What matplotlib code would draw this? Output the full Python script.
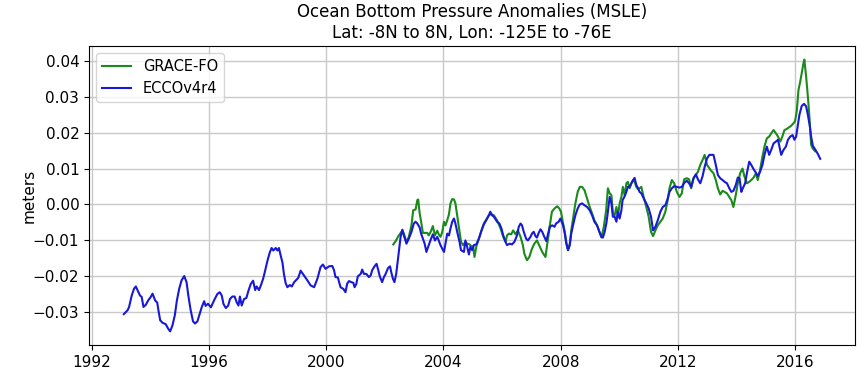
import matplotlib
matplotlib.use("Agg")
import matplotlib.pyplot as plt

# ECCOv4r4 ocean bottom pressure anomaly (m), decimal years
ecco_years = [
    1993.10, 1993.23, 1993.28, 1993.37, 1993.45, 1993.51, 1993.57, 1993.65, 1993.71, 1993.77,
    1993.85, 1993.93, 1994.02, 1994.08, 1994.17, 1994.24, 1994.28, 1994.34, 1994.42, 1994.53,
    1994.61, 1994.68, 1994.76, 1994.84, 1994.91, 1994.99, 1995.07, 1995.16, 1995.24, 1995.30,
    1995.38, 1995.46, 1995.53, 1995.61, 1995.69, 1995.76, 1995.84, 1995.89, 1995.97, 1996.07,
    1996.12, 1996.20, 1996.29, 1996.37, 1996.44, 1996.50, 1996.58, 1996.66, 1996.72, 1996.80,
    1996.88, 1996.95, 1997.01, 1997.06, 1997.12, 1997.20, 1997.28, 1997.35, 1997.43, 1997.51,
    1997.58, 1997.63, 1997.71, 1997.77, 1997.85, 1997.92, 1998.00, 1998.08, 1998.14, 1998.20,
    1998.28, 1998.34, 1998.39, 1998.45, 1998.51, 1998.56, 1998.62, 1998.68, 1998.76, 1998.83,
    1998.91, 1998.98, 1999.05, 1999.13, 1999.24, 1999.36, 1999.47, 1999.59, 1999.70, 1999.81,
    1999.89, 1999.98, 2000.10, 2000.21, 2000.27, 2000.32, 2000.40, 2000.49, 2000.59, 2000.66,
    2000.72, 2000.78, 2000.86, 2000.93, 2000.97, 2001.03, 2001.08, 2001.18, 2001.23, 2001.29,
    2001.37, 2001.46, 2001.52, 2001.57, 2001.65, 2001.72, 2001.78, 2001.83, 2001.91, 2001.97,
    2002.03, 2002.11, 2002.18, 2002.22, 2002.28, 2002.33, 2002.39, 2002.46, 2002.54, 2002.60,
    2002.65, 2002.74, 2002.82, 2002.91, 2002.99, 2003.05, 2003.11, 2003.19, 2003.24, 2003.30,
    2003.36, 2003.42, 2003.50, 2003.58, 2003.64, 2003.71, 2003.79, 2003.84, 2003.90, 2003.96,
    2004.02, 2004.07, 2004.13, 2004.19, 2004.24, 2004.30, 2004.36, 2004.41, 2004.47, 2004.55,
    2004.60, 2004.70, 2004.75, 2004.81, 2004.87, 2004.92, 2004.98, 2005.04, 2005.12, 2005.21,
    2005.30, 2005.38, 2005.46, 2005.55, 2005.60, 2005.66, 2005.72, 2005.83, 2005.91, 2005.98,
    2006.04, 2006.12, 2006.17, 2006.26, 2006.34, 2006.42, 2006.51, 2006.57, 2006.63, 2006.68,
    2006.74, 2006.82, 2006.88, 2006.97, 2007.02, 2007.08, 2007.14, 2007.19, 2007.25, 2007.31,
    2007.37, 2007.42, 2007.51, 2007.57, 2007.63, 2007.71, 2007.79, 2007.84, 2007.93, 2007.99,
    2008.08, 2008.14, 2008.19, 2008.25, 2008.31, 2008.36, 2008.42, 2008.50, 2008.58, 2008.65,
    2008.73, 2008.81, 2008.90, 2008.99, 2009.07, 2009.15, 2009.24, 2009.32, 2009.39, 2009.44,
    2009.50, 2009.56, 2009.61, 2009.67, 2009.73, 2009.78, 2009.84, 2009.90, 2009.95, 2010.01,
    2010.07, 2010.11, 2010.17, 2010.24, 2010.29, 2010.35, 2010.41, 2010.47, 2010.52, 2010.58,
    2010.64, 2010.69, 2010.75, 2010.83, 2010.92, 2011.00, 2011.08, 2011.15, 2011.23, 2011.31,
    2011.40, 2011.48, 2011.57, 2011.65, 2011.71, 2011.79, 2011.87, 2011.96, 2012.05, 2012.13,
    2012.21, 2012.30, 2012.38, 2012.45, 2012.53, 2012.61, 2012.68, 2012.76, 2012.84, 2012.91,
    2012.99, 2013.07, 2013.13, 2013.21, 2013.29, 2013.36, 2013.44, 2013.52, 2013.59, 2013.67,
    2013.75, 2013.82, 2013.89, 2013.97, 2014.04, 2014.10, 2014.16, 2014.21, 2014.29, 2014.35,
    2014.43, 2014.50, 2014.58, 2014.66, 2014.72, 2014.80, 2014.88, 2014.95, 2015.03, 2015.11,
    2015.18, 2015.26, 2015.34, 2015.41, 2015.46, 2015.52, 2015.60, 2015.68, 2015.75, 2015.83,
    2015.91, 2015.97, 2016.03, 2016.09, 2016.14, 2016.22, 2016.30, 2016.37, 2016.43, 2016.49,
    2016.54, 2016.60, 2016.68, 2016.76, 2016.85,
]
ecco_obp = [
    -0.0305, -0.0294, -0.0285, -0.0253, -0.0234, -0.0228, -0.0239, -0.0253, -0.0257, -0.0285,
    -0.0279, -0.0267, -0.0257, -0.0248, -0.0267, -0.0273, -0.0294, -0.0322, -0.0329, -0.0333,
    -0.0345, -0.0353, -0.0336, -0.0308, -0.0267, -0.0234, -0.0211, -0.0199, -0.0216, -0.0253,
    -0.0294, -0.0325, -0.0331, -0.0325, -0.0304, -0.0285, -0.0269, -0.0282, -0.0276, -0.0286,
    -0.0277, -0.0263, -0.0249, -0.0244, -0.0253, -0.0277, -0.0288, -0.0281, -0.0263, -0.0256,
    -0.0256, -0.0272, -0.0281, -0.0256, -0.0281, -0.0263, -0.0260, -0.0240, -0.0221, -0.0212,
    -0.0238, -0.0228, -0.0238, -0.0226, -0.0207, -0.0184, -0.0156, -0.0133, -0.0121, -0.0128,
    -0.0121, -0.0128, -0.0121, -0.0142, -0.0161, -0.0193, -0.0219, -0.0230, -0.0224, -0.0228,
    -0.0216, -0.0210, -0.0204, -0.0184, -0.0197, -0.0211, -0.0225, -0.0230, -0.0207, -0.0174,
    -0.0167, -0.0179, -0.0172, -0.0171, -0.0183, -0.0202, -0.0203, -0.0230, -0.0235, -0.0244,
    -0.0220, -0.0213, -0.0216, -0.0218, -0.0230, -0.0221, -0.0200, -0.0193, -0.0181, -0.0193,
    -0.0193, -0.0202, -0.0197, -0.0183, -0.0172, -0.0165, -0.0183, -0.0200, -0.0216, -0.0202,
    -0.0193, -0.0177, -0.0172, -0.0188, -0.0207, -0.0216, -0.0193, -0.0146, -0.0090, -0.0070,
    -0.0086, -0.0109, -0.0095, -0.0076, -0.0053, -0.0048, -0.0053, -0.0064, -0.0081, -0.0095,
    -0.0109, -0.0132, -0.0113, -0.0095, -0.0083, -0.0100, -0.0090, -0.0100, -0.0113, -0.0123,
    -0.0132, -0.0109, -0.0081, -0.0086, -0.0067, -0.0048, -0.0039, -0.0053, -0.0076, -0.0104,
    -0.0127, -0.0132, -0.0100, -0.0118, -0.0139, -0.0118, -0.0127, -0.0113, -0.0111, -0.0095,
    -0.0072, -0.0055, -0.0044, -0.0030, -0.0020, -0.0030, -0.0034, -0.0048, -0.0053, -0.0067,
    -0.0086, -0.0104, -0.0113, -0.0109, -0.0111, -0.0104, -0.0086, -0.0062, -0.0053, -0.0058,
    -0.0076, -0.0095, -0.0100, -0.0090, -0.0081, -0.0076, -0.0088, -0.0092, -0.0079, -0.0069,
    -0.0076, -0.0086, -0.0102, -0.0081, -0.0062, -0.0058, -0.0062, -0.0053, -0.0048, -0.0039,
    -0.0058, -0.0081, -0.0109, -0.0127, -0.0113, -0.0081, -0.0058, -0.0030, -0.0011, 0.0000,
    0.0003, -0.0002, -0.0007, -0.0016, -0.0030, -0.0048, -0.0058, -0.0076, -0.0090, -0.0092,
    -0.0076, -0.0051, -0.0020, 0.0021, 0.0003, -0.0034, -0.0034, -0.0048, -0.0020, -0.0039,
    -0.0016, 0.0012, 0.0021, 0.0035, 0.0049, 0.0049, 0.0059, 0.0068, 0.0074, 0.0054,
    0.0045, 0.0035, 0.0031, 0.0017, 0.0003, -0.0011, -0.0034, -0.0072, -0.0062, -0.0044,
    -0.0020, -0.0007, -0.0002, 0.0017, 0.0035, 0.0045, 0.0051, 0.0049, 0.0047, 0.0049,
    0.0060, 0.0066, 0.0059, 0.0049, 0.0073, 0.0084, 0.0070, 0.0059, 0.0079, 0.0105,
    0.0128, 0.0138, 0.0138, 0.0138, 0.0110, 0.0082, 0.0073, 0.0068, 0.0063, 0.0059,
    0.0045, 0.0035, 0.0038, 0.0054, 0.0075, 0.0073, 0.0035, 0.0045, 0.0059, 0.0087,
    0.0119, 0.0110, 0.0098, 0.0088, 0.0079, 0.0091, 0.0110, 0.0138, 0.0161, 0.0138,
    0.0152, 0.0170, 0.0175, 0.0180, 0.0161, 0.0138, 0.0152, 0.0161, 0.0180, 0.0189,
    0.0193, 0.0180, 0.0189, 0.0221, 0.0249, 0.0274, 0.0280, 0.0273, 0.0249, 0.0221,
    0.0189, 0.0163, 0.0153, 0.0142, 0.0127,
]

# GRACE-FO ocean bottom pressure anomaly (m), decimal years
grace_years = [
    2002.29, 2002.37, 2002.45, 2002.54, 2002.60, 2002.65, 2002.74, 2002.82, 2002.91, 2002.97,
    2003.05, 2003.11, 2003.14, 2003.19, 2003.24, 2003.30, 2003.39, 2003.45, 2003.50, 2003.56,
    2003.64, 2003.71, 2003.79, 2003.84, 2003.90, 2003.96, 2004.02, 2004.07, 2004.13, 2004.19,
    2004.24, 2004.30, 2004.36, 2004.41, 2004.47, 2004.55, 2004.60, 2004.67, 2004.75, 2004.81,
    2004.89, 2004.95, 2005.01, 2005.06, 2005.12, 2005.21, 2005.30, 2005.38, 2005.46, 2005.55,
    2005.63, 2005.72, 2005.83, 2005.95, 2006.04, 2006.12, 2006.17, 2006.23, 2006.31, 2006.38,
    2006.46, 2006.54, 2006.63, 2006.71, 2006.76, 2006.85, 2006.93, 2007.02, 2007.10, 2007.19,
    2007.27, 2007.37, 2007.44, 2007.48, 2007.56, 2007.63, 2007.70, 2007.79, 2007.88, 2007.95,
    2008.01, 2008.07, 2008.13, 2008.19, 2008.25, 2008.31, 2008.36, 2008.42, 2008.50, 2008.58,
    2008.65, 2008.73, 2008.81, 2008.90, 2008.99, 2009.07, 2009.15, 2009.24, 2009.32, 2009.39,
    2009.47, 2009.55, 2009.61, 2009.67, 2009.73, 2009.78, 2009.84, 2009.90, 2009.95, 2010.01,
    2010.07, 2010.12, 2010.18, 2010.24, 2010.29, 2010.35, 2010.41, 2010.47, 2010.52, 2010.58,
    2010.64, 2010.69, 2010.75, 2010.83, 2010.92, 2011.00, 2011.08, 2011.15, 2011.23, 2011.31,
    2011.40, 2011.48, 2011.57, 2011.65, 2011.71, 2011.79, 2011.87, 2011.96, 2012.05, 2012.13,
    2012.21, 2012.30, 2012.38, 2012.45, 2012.53, 2012.61, 2012.68, 2012.76, 2012.84, 2012.91,
    2012.99, 2013.07, 2013.13, 2013.21, 2013.29, 2013.36, 2013.44, 2013.52, 2013.59, 2013.67,
    2013.75, 2013.82, 2013.89, 2013.97, 2014.04, 2014.12, 2014.20, 2014.27, 2014.35, 2014.43,
    2014.50, 2014.58, 2014.66, 2014.72, 2014.80, 2014.88, 2014.95, 2015.03, 2015.11, 2015.18,
    2015.26, 2015.34, 2015.41, 2015.49, 2015.56, 2015.63, 2015.71, 2015.79, 2015.86, 2015.94,
    2015.99, 2016.05, 2016.11, 2016.17, 2016.22, 2016.28, 2016.31, 2016.37, 2016.43, 2016.49,
    2016.54, 2016.60, 2016.68,
]
grace_obp = [
    -0.0111, -0.0102, -0.0090, -0.0079, -0.0072, -0.0081, -0.0104, -0.0090, -0.0058, -0.0016,
    -0.0014, 0.0012, 0.0014, -0.0025, -0.0048, -0.0079, -0.0079, -0.0079, -0.0086, -0.0077,
    -0.0060, -0.0086, -0.0073, -0.0083, -0.0090, -0.0077, -0.0048, -0.0058, -0.0044, -0.0027,
    0.0003, 0.0015, 0.0014, 0.0003, -0.0030, -0.0076, -0.0104, -0.0113, -0.0104, -0.0109,
    -0.0111, -0.0116, -0.0116, -0.0146, -0.0118, -0.0095, -0.0072, -0.0053, -0.0042, -0.0030,
    -0.0027, -0.0030, -0.0044, -0.0067, -0.0090, -0.0104, -0.0086, -0.0081, -0.0083, -0.0072,
    -0.0083, -0.0072, -0.0090, -0.0113, -0.0137, -0.0155, -0.0146, -0.0123, -0.0109, -0.0100,
    -0.0114, -0.0132, -0.0141, -0.0146, -0.0099, -0.0058, -0.0020, -0.0011, -0.0005, -0.0011,
    -0.0020, -0.0048, -0.0072, -0.0104, -0.0127, -0.0109, -0.0072, -0.0039, 0.0003, 0.0035,
    0.0049, 0.0049, 0.0040, 0.0017, -0.0007, -0.0025, -0.0044, -0.0058, -0.0076, -0.0092,
    -0.0062, -0.0016, 0.0045, 0.0031, 0.0026, -0.0025, -0.0030, -0.0007, -0.0034, 0.0003,
    0.0021, 0.0049, 0.0026, 0.0059, 0.0063, 0.0045, 0.0059, 0.0068, 0.0063, 0.0049,
    0.0042, 0.0045, 0.0049, 0.0021, -0.0007, -0.0034, -0.0076, -0.0088, -0.0072, -0.0058,
    -0.0048, -0.0039, -0.0020, 0.0012, 0.0045, 0.0068, 0.0059, 0.0035, 0.0021, 0.0031,
    0.0070, 0.0073, 0.0070, 0.0045, 0.0073, 0.0082, 0.0091, 0.0110, 0.0124, 0.0138,
    0.0110, 0.0101, 0.0094, 0.0087, 0.0068, 0.0045, 0.0028, 0.0038, 0.0035, 0.0031,
    0.0021, 0.0012, -0.0007, 0.0026, 0.0059, 0.0087, 0.0100, 0.0077, 0.0059, 0.0063,
    0.0068, 0.0075, 0.0087, 0.0068, 0.0096, 0.0133, 0.0161, 0.0184, 0.0189, 0.0198,
    0.0207, 0.0198, 0.0189, 0.0175, 0.0189, 0.0207, 0.0210, 0.0215, 0.0219, 0.0226,
    0.0231, 0.0259, 0.0319, 0.0342, 0.0366, 0.0393, 0.0403, 0.0356, 0.0300, 0.0235,
    0.0166, 0.0155, 0.0148,
]

year_ticks = [1992, 1996, 2000, 2004, 2008, 2012, 2016]

fig = plt.figure(figsize=(8.64, 3.68), dpi=100)
ax = fig.add_axes([0.103, 0.0625, 0.8866, 0.8125])

ax.plot(grace_years, grace_obp, color="#1a8a1a", linewidth=1.5, label="GRACE-FO")
ax.plot(ecco_years, ecco_obp, color="#1818d8", linewidth=1.5, label="ECCOv4r4")

ax.set_xticks(year_ticks)
ax.set_xticklabels([str(y) for y in year_ticks])
ax.set_yticks([-0.03, -0.02, -0.01, 0.0, 0.01, 0.02, 0.03, 0.04])
ax.tick_params(labelsize=11)
ax.grid(True, color="#c8c8c8", linewidth=1.0)
ax.set_axisbelow(True)
ax.set_ylabel("meters", fontsize=11, labelpad=-3)
ax.set_title("Ocean Bottom Pressure Anomalies (MSLE)\nLat: -8N to 8N, Lon: -125E to -76E",
             fontsize=12)
ax.legend(loc="upper left", fontsize=10.5)

fig.savefig("out.png", dpi=100)
